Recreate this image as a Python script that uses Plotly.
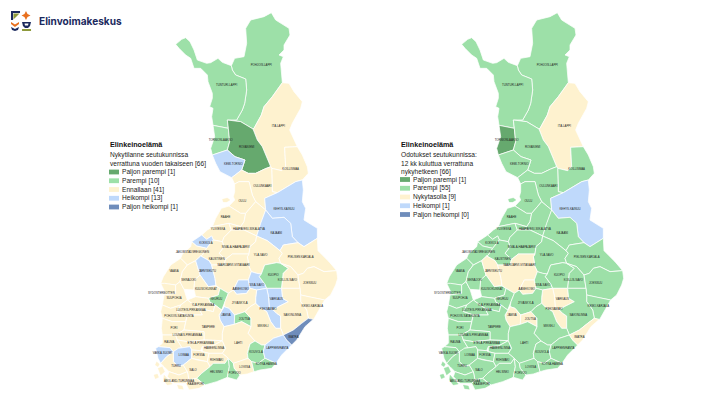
import plotly.graph_objects as go

# region table, parallel lists. class: 2 paljon parempi .. -2 paljon heikompi
region_names = ["POHJOIS-LAPPI", "TUNTURI-LAPPI", "ITÄ-LAPPI", "TORNIONLAAKSO", "ROVANIEMI", "KEMI-TORNIO",
                "KOILLISMAA", "OULUNKAARI", "OULU", "RAAHE", "YLIVIESKA", "HAAPAVESI-SIIKALATVA",
                "KEHYS-KAINUU", "KAJAANI", "NIVALA-HAAPAJÄRVI", "YLÄ-SAVO", "PIELISEN KARJALA", "KOKKOLA",
                "JAKOBSTADSREGIONEN", "KAUSTINEN", "VAASA", "SYDÖSTERBOTTEN", "SUUPOHJA", "SEINÄJOKI",
                "JÄRVISEUTU", "KUUSIOKUNNAT", "SAARIJÄRVI-VIITASAARI", "ÄÄNEKOSKI", "SISÄ-SAVO", "KUOPIO",
                "KOILLIS-SAVO", "JOENSUU", "KESKI-KARJALA", "VARKAUS", "PIEKSÄMÄKI", "SAVONLINNA",
                "KEURUU", "JYVÄSKYLÄ", "JÄMSÄ", "JOUTSA", "MIKKELI", "YLÄ-PIRKANMAA",
                "LUOTEIS-PIRKANMAA", "POHJOIS-SATAKUNTA", "PORI", "TAMPERE", "RAUMA", "LOUNAIS-PIRKANMAA",
                "ETELÄ-PIRKANMAA", "HÄMEENLINNA", "LAHTI", "KOUVOLA", "LAPPEENRANTA", "IMATRA",
                "VAKKA-SUOMI", "LOIMAA", "FORSSA", "RIIHIMÄKI", "TURKU", "SALO",
                "HELSINKI", "PORVOO", "LOVIISA", "KOTKA-HAMINA", "ÅBOLAND-TURUNMAA", "RAASEPORI"]

now_class = [1, 1, 0, 1, 2, -1,
             0, 0, 0, 0, 0, 0,
             -1, -1, 0, 0, 0, -1,
             0, 0, 0, 0, 0, 0,
             -1, 0, 0, -1, -1, 1,
             0, 0, 0, -1, -1, 0,
             1, 0, -1, 1, 0, 0,
             0, 0, 0, 0, 0, 0,
             0, 0, 0, 1, -1, -2,
             -1, -1, 0, 0, 0, 0,
             1, 1, 0, 1, 0, 0]

expected_class = [1, 1, 0, 2, 1, 1,
                  1, 1, 1, 1, 1, 1,
                  -1, 1, 1, 1, 1, 1,
                  1, 1, 1, 1, 1, 1,
                  0, 1, 0, 0, 1, 1,
                  1, 1, 1, 0, 0, 1,
                  1, 1, 0, 0, 1, 1,
                  1, 1, 1, 1, 1, 1,
                  1, 1, 1, 1, 1, 0,
                  1, 1, 1, 1, 1, 1,
                  1, 1, 1, 1, 1, 1]

label_x = [352, 248, 403, 230, 308, 268,
           440, 355, 295, 245, 222, 315,
           420, 397, 275, 350, 470, 186,
           145, 218, 90, 52, 90, 134,
           190, 186, 268, 290, 338, 388,
           430, 497, 505, 397, 372, 445,
           217, 287, 246, 301, 357, 177,
           141, 105, 90, 193, 76, 130,
           170, 210, 283, 336, 400, 448,
           55, 119, 165, 218, 96, 147,
           217, 272, 302, 367, 105, 155]

label_y = [197, 257, 379, 422, 442, 492,
           507, 560, 605, 652, 688, 687,
           627, 700, 741, 767, 773, 731,
           758, 777, 815, 881, 895, 841,
           815, 867, 797, 867, 855, 827,
           841, 850, 919, 897, 927, 946,
           898, 910, 947, 959, 979, 917,
           930, 948, 985, 982, 1027, 1005,
           1031, 1044, 1030, 1058, 1044, 1011,
           1060, 1066, 1066, 1080, 1099, 1110,
           1117, 1120, 1103, 1093, 1144, 1153]

outlines = [
    [(262,197),(272,175),(300,170),(308,130),(305,85),(320,60),(360,50),(382,38),(395,60),(435,85),(438,105),(420,135),(420,150),(405,165),(418,170),(410,190),(415,248),(385,290),(360,320),(352,345),(330,385),(327,387),(290,365),(250,360),(278,360),(295,330),(302,310),(308,270),(305,237),(275,225),(265,210)],
    [(95,133),(113,118),(125,113),(138,125),(150,150),(160,180),(188,190),(200,188),(222,175),(235,187),(262,197),(265,210),(275,225),(305,237),(308,270),(302,310),(295,330),(278,360),(250,360),(253,385),(207,376),(203,350),(207,325),(197,320),(205,295),(205,280),(192,245),(190,225),(170,205),(150,205),(140,175),(125,165),(105,145)],
    [(415,248),(435,250),(450,275),(475,305),(470,325),(445,370),(437,390),(460,440),(422,442),(425,500),(413,512),(383,505),(380,500),(370,475),(355,440),(340,420),(327,387),(330,385),(352,345),(360,320),(385,290)],
    [(207,376),(253,385),(257,425),(250,450),(205,465),(200,445),(212,410)],
    [(250,360),(290,365),(327,387),(340,420),(355,440),(370,475),(380,500),(362,507),(335,520),(313,520),(293,510),(303,480),(273,470),(250,450),(257,425),(253,385)],
    [(205,465),(250,450),(273,470),(303,480),(293,510),(263,533),(228,515),(215,490)],
    [(383,505),(413,512),(425,500),(422,442),(460,440),(475,465),(490,500),(493,520),(475,540),(455,545),(430,560),(400,578),(385,575)],
    [(263,533),(293,510),(313,520),(335,520),(362,507),(380,500),(383,505),(385,575),(400,578),(362,595),(365,630),(335,605),(325,585),(320,565),(315,545),(285,545),(272,552)],
    [(272,552),(285,545),(315,545),(320,565),(325,585),(335,605),(305,640),(290,640),(255,618),(272,600),(268,590),(272,575)],
    [(255,618),(290,640),(305,640),(300,665),(290,680),(255,670),(205,680),(215,655),(232,625)],
    [(205,680),(255,670),(262,690),(240,712),(235,725),(208,720),(203,708),(188,718),(173,705),(190,690)],
    [(305,640),(335,605),(365,630),(350,670),(338,708),(300,690),(262,690),(255,670),(290,680),(300,665)],
    [(400,578),(430,560),(455,545),(475,540),(478,570),(475,605),(485,625),(480,660),(520,685),(520,715),(480,740),(462,728),(445,710),(440,670),(420,652),(385,655),(365,630),(362,595)],
    [(365,630),(385,655),(420,652),(440,670),(445,710),(462,728),(418,735),(408,752),(370,722),(338,708),(350,670)],
    [(262,690),(300,690),(338,708),(335,725),(318,740),(315,762),(265,762),(245,778),(225,760),(240,740),(235,725),(240,712)],
    [(338,708),(370,722),(408,752),(415,760),(405,775),(410,790),(398,788),(362,795),(352,822),(338,820),(322,815),(315,800),(310,770),(315,762),(318,740),(335,725)],
    [(415,760),(408,752),(418,735),(462,728),(480,740),(520,715),(522,752),(555,785),(578,812),(540,815),(510,800),(490,805),(478,820),(462,825),(440,800),(410,790),(405,775)],
    [(143,725),(173,705),(188,718),(203,708),(208,720),(188,745),(158,738)],
    [(143,725),(158,738),(188,745),(175,765),(170,768),(155,782),(130,795),(110,775),(115,762),(140,740)],
    [(188,745),(208,720),(235,725),(240,740),(225,760),(245,778),(240,795),(203,795),(195,782),(170,768),(175,765)],
    [(110,775),(130,795),(115,815),(108,845),(95,855),(62,850),(50,850),(58,830),(80,795)],
    [(50,850),(62,850),(95,855),(95,880),(60,885),(62,875)],
    [(60,885),(95,880),(95,855),(108,845),(120,868),(128,890),(130,900),(110,915),(80,925),(55,915),(58,900)],
    [(130,795),(155,782),(168,825),(152,840),(150,870),(120,868),(108,845),(115,815)],
    [(155,782),(170,768),(195,782),(203,795),(213,835),(216,857),(193,860),(168,825)],
    [(168,825),(193,860),(216,857),(228,865),(223,885),(193,895),(155,890),(150,870),(152,840)],
    [(203,795),(240,795),(245,778),(265,762),(315,762),(310,770),(315,800),(322,815),(313,840),(283,840),(268,870),(253,880),(228,865),(216,857),(213,835)],
    [(283,840),(313,840),(318,865),(308,880),(278,883),(268,870)],
    [(313,840),(322,815),(338,820),(352,822),(346,830),(363,853),(368,865),(338,870),(318,865)],
    [(346,830),(352,822),(362,795),(398,788),(410,790),(433,805),(418,820),(413,865),(368,865),(363,853)],
    [(410,790),(440,800),(462,825),(468,865),(413,865),(418,820),(433,805)],
    [(462,825),(478,820),(490,805),(510,800),(540,815),(578,812),(581,835),(575,855),(560,885),(542,900),(500,892),(470,885),(468,865)],
    [(470,885),(500,892),(542,900),(508,960),(493,955),(488,930),(470,905)],
    [(368,865),(413,865),(416,895),(433,905),(403,920),(388,930),(376,925),(373,887)],
    [(338,870),(368,865),(373,887),(376,925),(388,930),(398,940),(410,948),(410,985),(395,985),(380,965),(368,935),(345,920),(335,910),(335,892)],
    [(413,865),(468,865),(470,885),(470,905),(488,930),(493,955),(473,970),(448,990),(418,1005),(410,985),(410,948),(398,940),(388,930),(403,920),(433,905),(416,895)],
    [(193,895),(223,885),(228,865),(253,880),(243,905),(233,930),(213,915),(198,907)],
    [(253,880),(268,870),(278,883),(308,880),(318,865),(338,870),(335,892),(335,910),(318,920),(303,935),(288,940),(272,945),(255,925),(240,920),(243,905)],
    [(225,945),(240,920),(255,925),(272,945),(271,973),(240,980),(228,960)],
    [(271,973),(272,945),(288,940),(303,935),(321,955),(321,980),(293,965)],
    [(335,910),(345,920),(368,935),(380,965),(395,985),(410,985),(418,1005),(388,1015),(363,1035),(353,1035),(333,1023),(312,1000),(321,980),(321,955),(303,935),(318,920)],
    [(155,890),(193,895),(198,907),(213,915),(208,935),(165,925),(150,915),(130,900)],
    [(110,915),(130,900),(150,915),(165,925),(175,945),(130,945),(100,935)],
    [(55,915),(80,925),(110,915),(100,935),(130,945),(125,965),(85,965),(55,955),(50,935)],
    [(55,955),(85,965),(125,965),(120,990),(95,1005),(55,1005),(52,985)],
    [(130,945),(175,945),(165,925),(208,935),(213,915),(233,930),(240,920),(225,945),(228,960),(240,980),(235,1000),(235,1022),(180,1020),(180,995),(120,990),(125,965)],
    [(55,1005),(95,1005),(100,1020),(115,1045),(88,1055),(78,1043),(43,1040),(55,1030)],
    [(95,1005),(120,990),(180,995),(180,1020),(130,1025),(100,1020)],
    [(100,1020),(130,1025),(180,1020),(235,1022),(205,1038),(175,1040),(170,1052),(143,1050),(138,1040),(103,1045),(115,1045)],
    [(175,1040),(205,1038),(235,1022),(245,1045),(235,1060),(195,1060),(175,1055)],
    [(235,1000),(240,980),(271,973),(293,965),(321,980),(312,1000),(333,1023),(318,1032),(310,1060),(312,1075),(285,1085),(268,1090),(253,1075),(235,1060),(245,1045),(235,1022)],
    [(318,1032),(333,1023),(353,1035),(363,1035),(358,1055),(363,1075),(343,1090),(323,1085),(312,1075),(310,1060)],
    [(363,1035),(388,1015),(418,1005),(428,1020),(443,1035),(413,1065),(396,1090),(363,1075),(358,1055)],
    [(508,958),(493,955),(473,970),(448,990),(418,1005),(428,1020),(443,1035),(458,1020),(483,980)],
    [(35,1045),(43,1040),(78,1043),(88,1055),(82,1060),(68,1070),(50,1090),(42,1075)],
    [(88,1055),(103,1045),(138,1040),(143,1050),(143,1075),(118,1095),(103,1100),(88,1085)],
    [(143,1050),(170,1052),(175,1055),(195,1060),(190,1085),(160,1080),(143,1075)],
    [(195,1060),(235,1060),(253,1075),(243,1090),(208,1090),(198,1100),(190,1085)],
    [(50,1090),(68,1070),(82,1060),(88,1055),(88,1085),(103,1100),(118,1095),(130,1115),(105,1125),(75,1115),(60,1100)],
    [(118,1095),(143,1075),(160,1080),(190,1085),(198,1100),(173,1120),(158,1135),(135,1140),(130,1115)],
    [(158,1135),(173,1120),(198,1100),(208,1090),(243,1090),(253,1075),(256,1100),(250,1132),(243,1135),(218,1145),(183,1155),(163,1140)],
    [(253,1075),(268,1090),(271,1105),(288,1125),(278,1140),(250,1132),(256,1100)],
    [(268,1090),(285,1085),(312,1075),(323,1085),(330,1115),(310,1122),(288,1125),(271,1105)],
    [(323,1085),(343,1090),(363,1075),(396,1090),(383,1105),(348,1110),(330,1115)],
    [(75,1115),(105,1125),(130,1115),(135,1140),(125,1150),(90,1150),(70,1130)],
    [(125,1150),(135,1140),(158,1135),(163,1140),(183,1155),(165,1165),(135,1170)],
]

# islands drawn in the colour of the region they belong to
island_regions = ["OULU", "ÅBOLAND-TURUNMAA", "ÅBOLAND-TURUNMAA", "ÅBOLAND-TURUNMAA", "TURKU", "ÅBOLAND-TURUNMAA"]
island_outlines = [
    [(235,598),(250,594),(258,600),(248,606),(238,606)],
    [(42,1105),(55,1100),(62,1115),(50,1125)],
    [(60,1125),(70,1135),(85,1152),(70,1155),(58,1140)],
    [(30,1125),(40,1122),(44,1132),(34,1136)],
    [(38,1085),(46,1092),(42,1100),(34,1095)],
    [(100,1155),(115,1158),(118,1168),(104,1166)],
]

class_colors = {2: "#66A96E", 1: "#9DE0A8", 0: "#FEF2CF", -1: "#BFD9FB", -2: "#6F8DBB"}

left_title = "Elinkeinoelämä"
left_sub = ["Nykytilanne seutukunnissa", "verrattuna vuoden takaiseen [66]"]
left_labels = ["Paljon parempi", "Parempi", "Ennallaan", "Heikompi", "Paljon heikompi"]
left_counts = [1, 10, 41, 13, 1]

right_title = "Elinkeinoelämä"
right_sub = ["Odotukset seutukunnissa:", "12 kk kuluttua verrattuna", "nykyhetkeen [66]"]
right_labels = ["Paljon parempi", "Parempi", "Nykytasolla", "Heikompi", "Paljon heikompi"]
right_counts = [1, 55, 9, 1, 0]
legend_classes = [2, 1, 0, -1, -2]

W, H = 720, 405
NAVY = "#1B2A5E"
TEXT = "#222222"

fig = go.Figure()


def draw_map(classes, xa, ya):
    for name, cl, ring in zip(region_names, classes, outlines):
        fig.add_trace(go.Scatter(x=[p[0] for p in ring] + [ring[0][0]], y=[p[1] for p in ring] + [ring[0][1]],
                                 mode="lines", fill="toself", fillcolor=class_colors[cl],
                                 line=dict(color="white", width=0.75), hoverinfo="text", text=name,
                                 xaxis=xa, yaxis=ya, showlegend=False))
    for name, ring in zip(island_regions, island_outlines):
        cl = classes[region_names.index(name)]
        fig.add_trace(go.Scatter(x=[p[0] for p in ring] + [ring[0][0]], y=[p[1] for p in ring] + [ring[0][1]],
                                 mode="lines", fill="toself", fillcolor=class_colors[cl],
                                 line=dict(color=class_colors[cl], width=0.3), hoverinfo="skip",
                                 xaxis=xa, yaxis=ya, showlegend=False))
    fig.add_trace(go.Scatter(x=label_x, y=label_y, mode="text", text=region_names,
                             textfont=dict(family="Liberation Sans", size=2.8, color="#222222"),
                             hoverinfo="skip", xaxis=xa, yaxis=ya, showlegend=False))


draw_map(now_class, "x", "y")
draw_map(expected_class, "x2", "y2")


def note(px, py, txt, size=6.6, bold=False, color=TEXT, family="Liberation Sans"):
    fig.add_annotation(x=px / W, y=1 - py / H, xref="paper", yref="paper", xanchor="left", yanchor="middle",
                       text="<b>%s</b>" % txt if bold else txt, showarrow=False,
                       font=dict(family=family, size=size, color=color), borderpad=0)


def box(x0, y0, x1, y1, color):
    fig.add_shape(type="rect", xref="paper", yref="paper", x0=x0 / W, x1=x1 / W, y0=1 - y0 / H, y1=1 - y1 / H,
                  fillcolor=color, line_width=0)


def legend(px, title, sub, labels, counts, title_y, sub_y, item_y, step):
    note(px, title_y, title, size=7.2, bold=True, color="#111111")
    for i, line in enumerate(sub):
        note(px, sub_y + i * 8.6, line)
    for i, (lab, n, cl) in enumerate(zip(labels, counts, legend_classes)):
        y = item_y + i * step
        box(px, y - 2.4, px + 10, y + 2.4, class_colors[cl])
        note(px + 12, y, "%s [%d]" % (lab, n))


legend(109, left_title, left_sub, left_labels, left_counts, 144.5, 155, 172, 8.75)
legend(400, right_title, right_sub, right_labels, right_counts, 144.5, 155, 179.5, 8.75)


def path_shape(points, color):
    d = "M " + " L ".join("%.4f,%.4f" % (x / W, 1 - y / H) for x, y in points) + " Z"
    fig.add_shape(type="path", path=d, xref="paper", yref="paper", fillcolor=color, line_width=0)


# logo
path_shape([(11, 11), (20, 11), (20, 13), (13, 13), (13, 20), (11, 20)], NAVY)
path_shape([(13.5, 13.5), (19.5, 13.5), (13.5, 19.5)], "#8E9A3C")
path_shape([(26, 11), (27.5, 14), (30.5, 15.5), (27.5, 17), (26, 20), (24.5, 17), (21.5, 15.5), (24.5, 14)], "#E8701E")
path_shape([(11, 22), (15, 24.5), (19, 22), (19, 24), (15, 27), (11, 24)], "#E8701E")
path_shape([(11, 27), (15, 29), (19, 27), (18, 30), (15, 31), (12, 30)], NAVY)
path_shape([(22, 22), (31, 22), (30, 26), (28, 28), (25, 28), (23, 26)], NAVY)
path_shape([(24.5, 23.5), (28.5, 23.5), (28, 25.5), (25, 25.5)], "white")
path_shape([(22, 29), (31, 29), (31, 31), (22, 31)], "#8E9A3C")
note(38, 21, "Elinvoimakeskus", size=10.1, bold=True, color=NAVY, family="Inter")

axis = dict(visible=False, fixedrange=True)
fig.update_layout(
    width=W, height=H, margin=dict(l=0, r=0, t=0, b=0), plot_bgcolor="white", paper_bgcolor="white",
    showlegend=False,
    xaxis=dict(domain=[0, 0.5], range=[-432, 648], **axis),
    yaxis=dict(domain=[0, 1], range=[1215, 0], **axis),
    xaxis2=dict(domain=[0.5, 1], range=[-210, 870], **axis),
    yaxis2=dict(domain=[0, 1], range=[1215, 0], anchor="x2", **axis),
)
# page body has a default margin, drop it so the figure fills the window
fig.write_html("out.html", config={"displayModeBar": False},
               post_script="document.body.style.margin='0';document.body.style.overflow='hidden';")
